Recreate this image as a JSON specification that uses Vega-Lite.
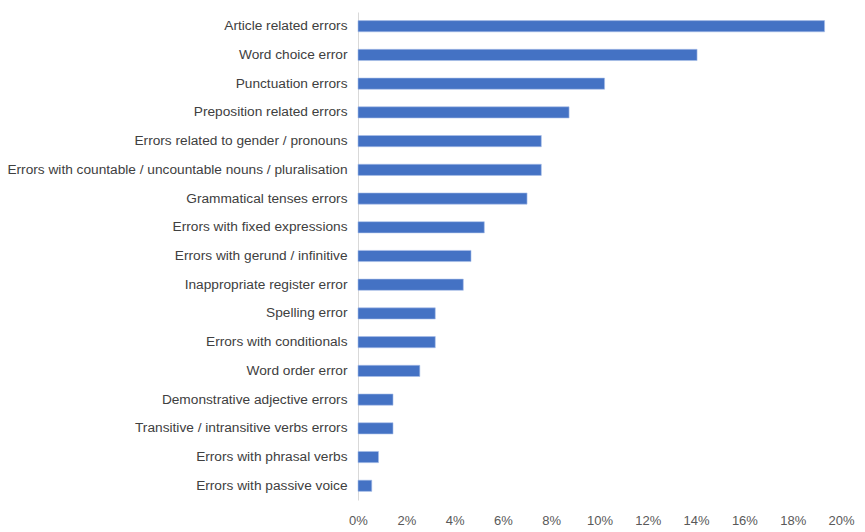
{
  "$schema": "https://vega.github.io/schema/vega-lite/v6.json",
  "width": 483,
  "height": 488,
  "autosize": "none",
  "padding": {"left": 358, "top": 12, "right": 24, "bottom": 32},
  "background": "white",
  "config": {"view": {"stroke": null}, "font": "Liberation Sans"},
  "data": {"values": [
    {"category": "Article related errors", "share": 0.1932},
    {"category": "Word choice error", "share": 0.1404},
    {"category": "Punctuation errors", "share": 0.1021},
    {"category": "Preposition related errors", "share": 0.0874},
    {"category": "Errors related to gender / pronouns", "share": 0.0759},
    {"category": "Errors with countable / uncountable nouns / pluralisation", "share": 0.0759},
    {"category": "Grammatical tenses errors", "share": 0.07},
    {"category": "Errors with fixed expressions", "share": 0.0523},
    {"category": "Errors with gerund / infinitive", "share": 0.0468},
    {"category": "Inappropriate register error", "share": 0.0436},
    {"category": "Spelling error", "share": 0.032},
    {"category": "Errors with conditionals", "share": 0.032},
    {"category": "Word order error", "share": 0.0256},
    {"category": "Demonstrative adjective errors", "share": 0.0145},
    {"category": "Transitive / intransitive verbs errors", "share": 0.0145},
    {"category": "Errors with phrasal verbs", "share": 0.0085},
    {"category": "Errors with passive voice", "share": 0.0057}
  ]},
  "mark": {"type": "bar", "color": "#4472C4", "stroke": "#a9c0ea", "strokeWidth": 0.6},
  "encoding": {
    "y": {
      "field": "category", "type": "nominal", "sort": null,
      "scale": {"paddingInner": 0.61, "paddingOuter": 0.3},
      "axis": {"title": null, "domain": true, "domainColor": "#d9d9d9", "ticks": false,
               "labelPadding": 11, "labelFontSize": 13.7, "labelColor": "#404040", "labelLimit": 400}
    },
    "x": {
      "field": "share", "type": "quantitative",
      "scale": {"domain": [0, 0.2], "nice": false},
      "axis": {"title": null, "format": ".0%", "values": [0, 0.02, 0.04, 0.06, 0.08, 0.1, 0.12, 0.14, 0.16, 0.18, 0.2],
               "grid": false, "domain": false, "ticks": false, "labelPadding": 14,
               "labelFontSize": 13, "labelColor": "#595959", "labelFlush": false}
    }
  }
}
